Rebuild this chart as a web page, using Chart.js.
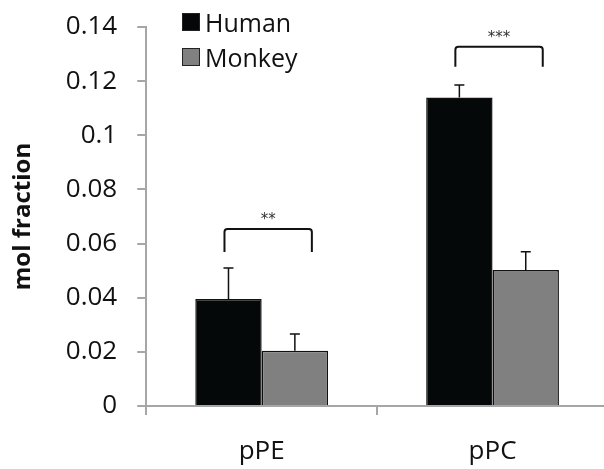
<!DOCTYPE html>
<html lang="en">
    <head>
        <meta charset="UTF-8">
        <title>mol fraction</title>
        <script src="https://cdn.jsdelivr.net/npm/chart.js@4.4.0/dist/chart.umd.min.js"></script>
        <style>
            body, html {
                margin: 0;
                padding: 0;
                background-color: #ffffff;
                overflow: hidden;
                font-family: 'Open Sans', sans-serif;
            }
            #wrap {
                position: relative;
                width: 612px;
                height: 469px;
            }
            #myChart {
                display: block;
            }
            #legend {
                position: absolute;
                left: 182px;
                top: 4px;
                font-size: 25px;
                color: #111;
            }
            #legend div {
                display: flex;
                align-items: center;
                height: 35px;
            }
            #legend span.box {
                display: inline-block;
                width: 16px;
                height: 16px;
                border: 1px solid #222;
                margin-right: 5px;
            }
        </style>
    </head>
    <body>
        <div id="wrap">
            <canvas id="myChart" width="612" height="469"></canvas>
            <div id="legend"></div>
        </div>
    </body>
    <script>
        var categories = ["pPE", "pPC"]
        var seriesNames = ["Human", "Monkey"]
        var humanValues = [0.0395, 0.114]
        var monkeyValues = [0.0204, 0.0502]
        var humanErr = [0.0115, 0.0046]
        var monkeyErr = [0.0062, 0.0068]
        var seriesColors = ["#050808", "#808080"]
        // significance brackets: category, top of bracket, bottom of legs, stars
        var bracketCats = [0, 1]
        var bracketTop = [0.0654, 0.1327]
        var bracketLeg = [0.0569, 0.1253]
        var bracketText = ["**", "***"]

        var errors = [humanErr, monkeyErr]

        var errorBars = {
            id: 'errorBars',
            afterDatasetsDraw(chart) {
                var ctx = chart.ctx
                var y = chart.scales.y
                ctx.save()
                ctx.strokeStyle = "#111"
                ctx.lineWidth = 1.5
                chart.data.datasets.forEach((ds, i) => {
                    var meta = chart.getDatasetMeta(i)
                    meta.data.forEach((bar, j) => {
                        var top = y.getPixelForValue(ds.data[j] + errors[i][j])
                        ctx.beginPath()
                        ctx.moveTo(bar.x, bar.y)
                        ctx.lineTo(bar.x, top)
                        ctx.moveTo(bar.x - 5, top)
                        ctx.lineTo(bar.x + 5, top)
                        ctx.stroke()
                    })
                })
                // brackets
                ctx.lineWidth = 2
                ctx.fillStyle = "#333"
                ctx.font = "15px 'DejaVu Sans'"
                ctx.textAlign = "center"
                ctx.textBaseline = "middle"
                bracketCats.forEach((c, k) => {
                    var left = chart.getDatasetMeta(0).data[c].x - 4
                    var right = chart.getDatasetMeta(1).data[c].x + 17
                    var yt = y.getPixelForValue(bracketTop[k])
                    var yl = y.getPixelForValue(bracketLeg[k])
                    ctx.beginPath()
                    ctx.moveTo(left, yl)
                    ctx.lineTo(left, yt + 3)
                    ctx.quadraticCurveTo(left, yt, left + 3, yt)
                    ctx.lineTo(right - 3, yt)
                    ctx.quadraticCurveTo(right, yt, right, yt + 3)
                    ctx.lineTo(right, yl)
                    ctx.stroke()
                    ctx.fillText(bracketText[k], (left + right) / 2, yt - 9)
                })
                ctx.restore()
            }
        }

        var ctx = document.getElementById('myChart').getContext('2d');
        var myChart = new Chart(ctx, {
            type: 'bar',
            data: {
                labels: categories,
                datasets: [
                    {
                        label: seriesNames[0],
                        data: humanValues,
                        backgroundColor: seriesColors[0],
                        borderColor: "#111",
                        borderWidth: 1.5,
                    },
                    {
                        label: seriesNames[1],
                        data: monkeyValues,
                        backgroundColor: seriesColors[1],
                        borderColor: "#111",
                        borderWidth: 1.5,
                    }
                ]
            },
            options: {
                animation: false,
                responsive: false,
                layout: {
                    padding: { top: 27, right: 4, bottom: 2, left: 9 }
                },
                datasets: {
                    bar: {
                        categoryPercentage: 0.575,
                        barPercentage: 1,
                    }
                },
                plugins: {
                    legend: { display: false },
                    tooltip: { enabled: false },
                },
                scales: {
                    x: {
                        grid: {
                            drawOnChartArea: false,
                            color: "#a6a6a6",
                            lineWidth: 2,
                            tickLength: 9,
                        },
                        border: { color: "#a6a6a6", width: 2 },
                        ticks: {
                            color: "#111",
                            font: { family: "'Open Sans'", size: 26 },
                            padding: 21,
                            maxRotation: 0,
                        },
                        afterFit: (scale) => {
                            scale.paddingLeft = 0
                            scale.paddingRight = 0
                            scale.height = 61
                        },
                    },
                    y: {
                        min: 0,
                        max: 0.14,
                        grid: {
                            drawOnChartArea: false,
                            color: "#a6a6a6",
                            lineWidth: 2,
                            tickLength: 9,
                        },
                        border: { color: "#a6a6a6", width: 2 },
                        ticks: {
                            stepSize: 0.02,
                            color: "#111",
                            font: { family: "'Open Sans'", size: 26 },
                            padding: 20,
                            callback: (v) => String(Math.round(v * 100) / 100),
                        },
                        title: {
                            display: true,
                            text: "mol fraction",
                            color: "#111",
                            font: { family: "'Open Sans'", size: 24, weight: 'bold' },
                            padding: { top: 0, bottom: 8 },
                        },
                        afterFit: (scale) => { scale.paddingTop = 0; scale.paddingBottom = 0 },
                    },
                },
            },
            plugins: [errorBars]
        });

        var legendEl = document.getElementById("legend")
        seriesNames.forEach((name, i) => {
            legendEl.innerHTML += `<div><span class="box" style="background:${seriesColors[i]}"></span>${name}</div>`
        })
    </script>
</html>
